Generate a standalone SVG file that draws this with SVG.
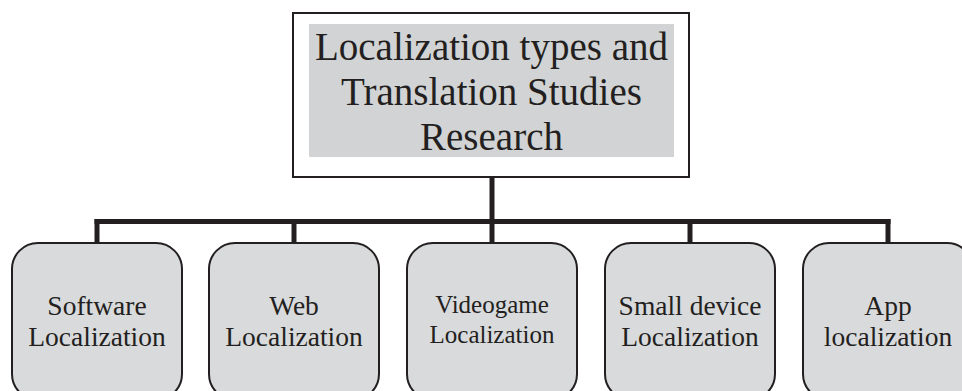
<svg xmlns="http://www.w3.org/2000/svg" width="962" height="391" viewBox="0 0 962 391">
  <style>
    .txt { font-family: "Liberation Serif", "Times New Roman", serif; fill: #231f20; text-anchor: middle; }
    .title { font-size: 39px; }
    .label { font-size: 27.5px; }
    .label-sm { font-size: 25px; }
    .child { fill: #d9dadc; stroke: #231f20; stroke-width: 2; }
    .wire { fill: none; stroke: #231f20; stroke-width: 5; stroke-linecap: butt; }
  </style>
  <rect width="962" height="391" fill="#ffffff"/>

  <!-- root node -->
  <g id="root">
    <rect x="293" y="13" width="396" height="164" fill="#ffffff" stroke="#231f20" stroke-width="2"/>
    <rect x="309" y="24" width="365" height="133" fill="#d1d3d4"/>
    <text class="txt title" x="491.5" y="60">Localization types and</text>
    <text class="txt title" x="491.5" y="105">Translation Studies</text>
    <text class="txt title" x="491.5" y="150">Research</text>
  </g>

  <!-- tree connectors -->
  <g id="connectors">
    <path class="wire" d="M492 177 V221.5"/>
    <path class="wire" d="M94.5 221.5 H890.5"/>
    <path class="wire" d="M97 219 V243"/>
    <path class="wire" d="M294 219 V243"/>
    <path class="wire" d="M492 219 V243"/>
    <path class="wire" d="M690 219 V243"/>
    <path class="wire" d="M888 219 V243"/>
  </g>

  <!-- child nodes -->
  <g id="software">
    <rect class="child" x="12" y="243" width="170" height="157" rx="26" ry="26"/>
    <text class="txt label" x="97" y="315">Software</text>
    <text class="txt label" x="97" y="346">Localization</text>
  </g>
  <g id="web">
    <rect class="child" x="209" y="243" width="170" height="157" rx="26" ry="26"/>
    <text class="txt label" x="294" y="315">Web</text>
    <text class="txt label" x="294" y="346">Localization</text>
  </g>
  <g id="videogame">
    <rect class="child" x="407" y="243" width="170" height="157" rx="26" ry="26"/>
    <text class="txt label-sm" x="492" y="313">Videogame</text>
    <text class="txt label-sm" x="492" y="343">Localization</text>
  </g>
  <g id="small-device">
    <rect class="child" x="605" y="243" width="170" height="157" rx="26" ry="26"/>
    <text class="txt label" x="690" y="315">Small device</text>
    <text class="txt label" x="690" y="346">Localization</text>
  </g>
  <g id="app">
    <rect class="child" x="803" y="243" width="170" height="157" rx="26" ry="26"/>
    <text class="txt label" x="888" y="315">App</text>
    <text class="txt label" x="888" y="346">localization</text>
  </g>
</svg>
